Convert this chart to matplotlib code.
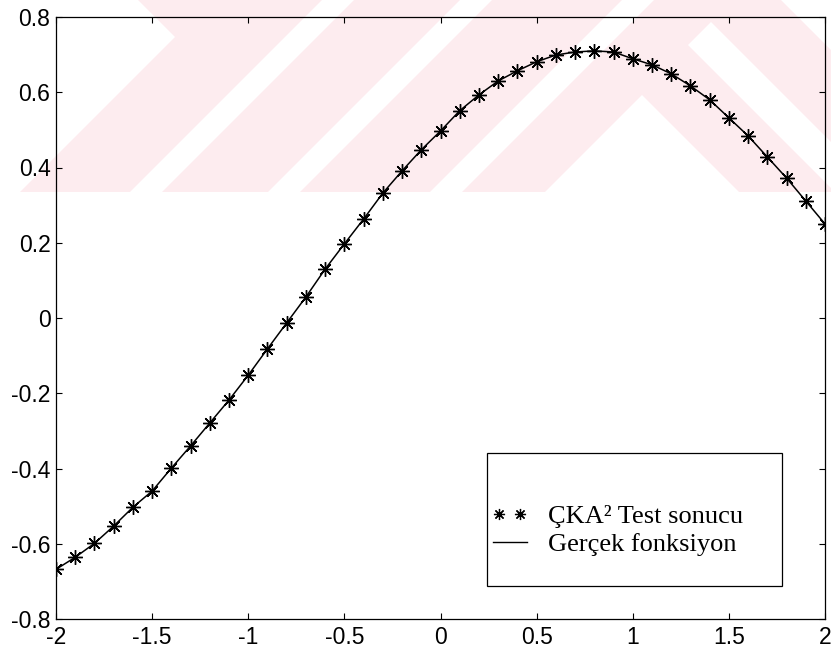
import matplotlib
matplotlib.use("Agg")
import matplotlib.pyplot as plt
from matplotlib.patches import Polygon, Rectangle
from matplotlib.lines import Line2D

# ---- data -------------------------------------------------------------
x_values = [-2.0, -1.9, -1.8, -1.7, -1.6, -1.5, -1.4, -1.3, -1.2, -1.1,
            -1.0, -0.9, -0.8, -0.7, -0.6, -0.5, -0.4, -0.3, -0.2, -0.1,
            0.0, 0.1, 0.2, 0.3, 0.4, 0.5, 0.6, 0.7, 0.8, 0.9,
            1.0, 1.1, 1.2, 1.3, 1.4, 1.5, 1.6, 1.7, 1.8, 1.9, 2.0]

test_result = [-0.668, -0.636, -0.599, -0.553, -0.503, -0.460, -0.399, -0.340,
               -0.279, -0.218, -0.152, -0.082, -0.013, 0.056, 0.130, 0.197,
               0.263, 0.332, 0.391, 0.447, 0.497, 0.551, 0.593, 0.630,
               0.657, 0.681, 0.699, 0.707, 0.710, 0.707, 0.689, 0.673,
               0.649, 0.617, 0.580, 0.532, 0.484, 0.428, 0.372, 0.311, 0.250]

true_function = [-0.668, -0.636, -0.599, -0.553, -0.503, -0.460, -0.399, -0.340,
                 -0.279, -0.218, -0.152, -0.082, -0.013, 0.056, 0.130, 0.197,
                 0.263, 0.332, 0.391, 0.447, 0.497, 0.551, 0.593, 0.630,
                 0.657, 0.681, 0.699, 0.707, 0.710, 0.707, 0.689, 0.673,
                 0.649, 0.617, 0.580, 0.532, 0.484, 0.428, 0.372, 0.311, 0.250]

x_ticks = [-2, -1.5, -1, -0.5, 0, 0.5, 1, 1.5, 2]
x_tick_labels = ["-2", "-1.5", "-1", "-0.5", "0", "0.5", "1", "1.5", "2"]
y_ticks = [-0.8, -0.6, -0.4, -0.2, 0, 0.2, 0.4, 0.6, 0.8]
y_tick_labels = ["-0.8", "-0.6", "-0.4", "-0.2", "0", "0.2", "0.4", "0.6", "0.8"]

legend_labels = ["ÇKA² Test sonucu", "Gerçek fonksiyon"]

# ---- figure layout (pixels) -------------------------------------------
W, H = 831, 656
AX_L, AX_R, AX_T, AX_B = 56, 825, 17, 619

fig = plt.figure(figsize=(W / 100, H / 100), dpi=100)
fig.patch.set_facecolor("white")

# full-page layer for the faint pink watermark behind the plot
bg = fig.add_axes([0, 0, 1, 1], zorder=0)
bg.set_xlim(0, W)
bg.set_ylim(H, 0)
bg.axis("off")

PINK = "#fdecef"
WM_BOTTOM = 192
bg.add_patch(Rectangle((0, 0), W, WM_BOTTOM, facecolor=PINK, edgecolor="none"))
white_cutouts = [
    [(0, 0), (138, 0), (175, 37), (20, WM_BOTTOM), (0, WM_BOTTOM)],
    [(130, WM_BOTTOM), (162, WM_BOTTOM), (354, 0), (322, 0)],
    [(268, WM_BOTTOM), (300, WM_BOTTOM), (492, 0), (460, 0)],
    [(430, WM_BOTTOM), (462, WM_BOTTOM), (654, 0), (622, 0)],
    [(545, WM_BOTTOM), (642, 95), (739, WM_BOTTOM)],
    [(711, 22), (688, 45), (831, 188), (831, 142)],
    [(781, 0), (831, 0), (831, 50)],
]
for poly in white_cutouts:
    bg.add_patch(Polygon(poly, closed=True, facecolor="white", edgecolor="none"))

# ---- main axes ----------------------------------------------------------
ax = fig.add_axes([AX_L / W, (H - AX_B) / H, (AX_R - AX_L) / W, (AX_B - AX_T) / H],
                  zorder=1)
ax.set_facecolor("none")

asterisk = (8, 2, 0)
ax.plot(x_values, true_function, color="black", linewidth=1.1, zorder=3)
ax.plot(x_values, test_result, linestyle="none", marker=asterisk, markersize=10.5,
        markeredgewidth=1.0, color="black", zorder=4)

ax.set_xlim(-2, 2)
ax.set_ylim(-0.8, 0.8)
ax.set_xticks(x_ticks)
ax.set_xticklabels(x_tick_labels)
ax.set_yticks(y_ticks)
ax.set_yticklabels(y_tick_labels)

for lab in ax.get_xticklabels() + ax.get_yticklabels():
    lab.set_fontfamily("Liberation Sans")
    lab.set_fontsize(16.5)

ax.tick_params(direction="in", length=4, width=0.8, top=True, right=True,
               colors="black")
ax.tick_params(axis="x", pad=5)
ax.tick_params(axis="y", pad=4)
for sp in ax.spines.values():
    sp.set_linewidth(0.9)
    sp.set_color("black")

# ---- legend box ---------------------------------------------------------
def ax_x(px):
    return (px - AX_L) / (AX_R - AX_L)


def ax_y(py):
    return (AX_B - py) / (AX_B - AX_T)


LEG_L, LEG_R, LEG_T, LEG_B = 487, 782, 453, 586
ax.add_patch(Rectangle((ax_x(LEG_L), ax_y(LEG_B)), ax_x(LEG_R) - ax_x(LEG_L),
                       ax_y(LEG_T) - ax_y(LEG_B), transform=ax.transAxes,
                       facecolor="white", edgecolor="black", linewidth=0.9,
                       zorder=5))

row1_y, row2_y = 514, 542
ax.add_line(Line2D([ax_x(499), ax_x(520)], [ax_y(row1_y)] * 2, transform=ax.transAxes,
                   linestyle="none", marker=asterisk, markersize=8,
                   markeredgewidth=0.9, color="black", zorder=6))
ax.add_line(Line2D([ax_x(493), ax_x(527)], [ax_y(row2_y)] * 2, transform=ax.transAxes,
                   color="black", linewidth=1.0, zorder=6))

legend_font = {"family": "Liberation Serif", "size": 19}
ax.text(ax_x(548), ax_y(523), legend_labels[0], transform=ax.transAxes,
        va="baseline", ha="left", zorder=7, **legend_font)
ax.text(ax_x(548), ax_y(551), legend_labels[1], transform=ax.transAxes,
        va="baseline", ha="left", zorder=7, **legend_font)

fig.savefig("out.png", dpi=100)
